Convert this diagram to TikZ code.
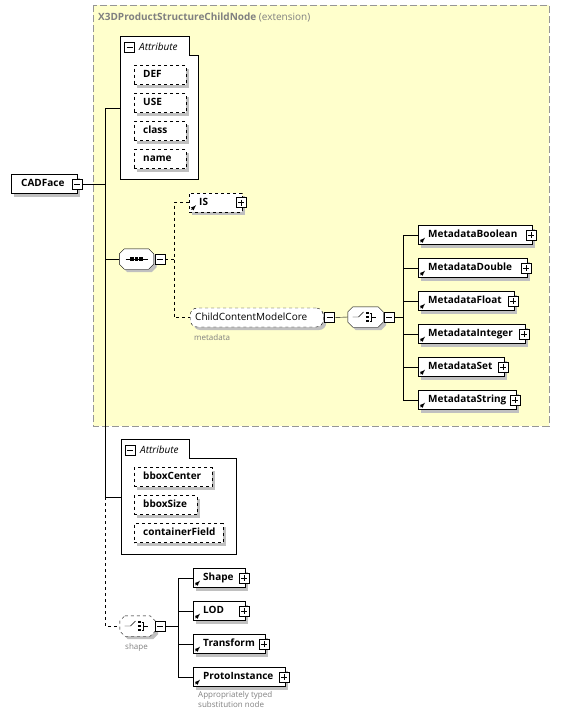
\documentclass[tikz,border=0pt]{standalone}
\usepackage{fontspec}
\setmainfont{Open Sans}
\usetikzlibrary{%
	calc,%
	arrows,%
	shadows
}
\definecolor{extfill}{RGB}{255,255,204}
\definecolor{extline}{RGB}{150,150,150}
\definecolor{shade}{RGB}{192,192,192}
\definecolor{notegray}{RGB}{128,128,128}

\tikzset{
	boxshadow/.style={general shadow={fill=shade, shadow xshift=3pt, shadow yshift=-3pt}},
	elem/.style={draw, fill=white, boxshadow, font=\fontsize{10}{12}\selectfont\bfseries,
		text width=#1, align=left, inner xsep=10pt, inner ysep=0pt,
		text height=7.5pt, text depth=2.5pt, minimum height=19pt, anchor=west},
	attr/.style={elem=#1, dashed, inner xsep=9pt},
	btn/.style={draw, solid, fill=white, minimum size=10pt, inner sep=0pt},
	minusbtn/.style={btn, path picture={
		\draw[solid] ([xshift=2pt]path picture bounding box.west) -- ([xshift=-2pt]path picture bounding box.east);}},
	plusbtn/.style={btn, path picture={
		\draw[solid] ([xshift=2pt]path picture bounding box.west) -- ([xshift=-2pt]path picture bounding box.east);
		\draw[solid] ([yshift=-2pt]path picture bounding box.north) -- ([yshift=2pt]path picture bounding box.south);}},
	comp/.style={minimum width=34pt, minimum height=20pt, inner sep=0pt},
	note/.style={font=\fontsize{8}{10}\selectfont, text=notegray, anchor=north west, inner sep=0pt, align=left},
	pics/seqicon/.style={code={
		\draw (-11,0) -- (11,0);
		\foreach \dx in {-4.5,0,4.5} \fill (\dx,0) +(-1.7,-1.7) rectangle +(1.7,1.7);
	}},
	pics/choiceicon/.style={code={
		\draw (-13,0) -- (-7,0) -- (-2,-5);
		\foreach \dy in {-4,0,4} \fill (2,\dy) +(-1.4,-1.4) rectangle +(1.4,1.4);
		\draw (4,-4) -- (6,-4) -- (6,4) -- (4,4) (6,0) -- (10,0);
	}}
}

% octagon round a compositor node
\newcommand\compframe[2][]{%
	\draw[fill=white, boxshadow, #1] ([xshift=5pt]#2.north west) -- ([xshift=-5pt]#2.north east)
		-- ([yshift=-5pt]#2.north east) -- ([yshift=5pt]#2.south east) -- ([xshift=-5pt]#2.south east)
		-- ([xshift=5pt]#2.south west) -- ([yshift=5pt]#2.south west) -- ([yshift=-5pt]#2.north west) -- cycle;}

\begin{document}
\begin{tikzpicture}[x=1pt, y=-1pt, >=latex]
	\useasboundingbox (0,0) rectangle (560,720);

	% Extension
	\draw[extline, dash pattern=on 7pt off 3pt, fill=extfill] (93,5) rectangle (549,426);
	\node[anchor=west, text=notegray, font=\fontsize{10}{12}\selectfont, inner sep=0pt] (exttitle) at (98,17)
		{\textbf{X3DProductStructureChildNode} (extension)};

	% Attribute groups
	\draw[fill=white] (120,36) -- (189,36) -- (189,55) -- (198,55) -- (198,179) -- (120,179) -- cycle;
	\node[minusbtn] (atts1btn) at (129.5,47) {};
	\node[anchor=west, inner sep=0pt, font=\fontsize{10}{12}\selectfont\itshape] (atts1head) at (139,47) {Attribute};
	\coordinate (atts1) at (120,108);

	\draw[fill=white] (121,439) -- (189,439) -- (189,458) -- (236,458) -- (236,554) -- (121,554) -- cycle;
	\node[minusbtn] (atts2btn) at (130,450) {};
	\node[anchor=west, inner sep=0pt, font=\fontsize{10}{12}\selectfont\itshape] (atts2head) at (140,450) {Attribute};
	\coordinate (atts2) at (121,497);

	% Attributes
	\node[attr=34pt] (def) at (134,75) {DEF};
	\node[attr=34pt] (use) at (134,103) {USE};
	\node[attr=34pt] (class) at (134,131) {class};
	\node[attr=34pt] (name) at (134,159) {name};
	\node[attr=60pt] (bboxcenter) at (134,477) {bboxCenter};
	\node[attr=45pt] (bboxsize) at (134,505) {bboxSize};
	\node[attr=71pt] (containerfield) at (134,533) {containerField};

	% Root
	\node[elem=46pt] (cadface) at (11,184) {CADFace};
	\node[minusbtn] (cadbtn) at (cadface.east) {};
	\coordinate (trunk) at (105,184);

	% Compositors
	\node[comp] (seq) at (136.5,259) {};
	\compframe{seq}
	\pic at (seq.center) {seqicon};
	\node[minusbtn, anchor=west] (seqbtn) at ([xshift=1pt]seq.east) {};
	\coordinate (seqbus) at (174,259);

	\node[comp, minimum width=35pt] (chc) at (365.5,317) {};
	\compframe{chc}
	\pic at (chc.center) {choiceicon};
	\node[minusbtn, anchor=west] (chcbtn) at ([xshift=1pt]chc.east) {};
	\coordinate (chcbus) at (403,317);

	\node[comp, minimum width=35pt] (shp) at (137.5,626) {};
	\compframe[dashed]{shp}
	\pic at (shp.center) {choiceicon};
	\node[minusbtn, anchor=west] (shpbtn) at (shp.east) {};
	\coordinate (shpbus) at (178,626);

	% Elements
	\node[elem=33pt, dashed] (is) at (189,202.5) {IS};
	\node[draw, dashed, rounded corners=7pt, fill=white, boxshadow, anchor=west, font=\fontsize{10}{12}\selectfont,
		text width=123pt, inner xsep=5pt, inner ysep=0pt, text height=7.5pt, text depth=2.5pt,
		minimum height=19pt] (ccmc) at (190,317.5) {ChildContentModelCore};
	\node[minusbtn, anchor=west] (ccmcbtn) at ([xshift=1pt]ccmc.east) {};
	\node[note] (metanote) at (194,334) {metadata};

	\node[elem=94pt] (mbool) at (418,235) {MetadataBoolean};
	\node[elem=89pt] (mdbl) at (418,268) {MetadataDouble};
	\node[elem=76pt] (mflt) at (418,301) {MetadataFloat};
	\node[elem=87pt] (mint) at (418,334) {MetadataInteger};
	\node[elem=66pt] (mset) at (418,367) {MetadataSet};
	\node[elem=78pt] (mstr) at (418,400) {MetadataString};

	\node[elem=32pt] (shape) at (193,578) {Shape};
	\node[elem=32pt] (lod) at (193,611) {LOD};
	\node[elem=52pt] (xform) at (193,644) {Transform};
	\node[elem=72pt] (proto) at (193,677) {ProtoInstance};
	\node[note] (shpnote) at (125,643) {shape};
	\node[note] (protonote) at (198,691) {Appropriately typed\\substitution node};

	% Plus buttons and reference arrows
	\foreach \e in {is,mbool,mdbl,mflt,mint,mset,mstr,shape,lod,xform,proto} {
		\node[plusbtn] (\e-btn) at ([xshift=-1.5pt]\e.east) {};
		\draw[->, line width=.8pt, solid] ([shift={(2.5pt,2.5pt)}]\e.south west) -- ++(4.5pt,4.5pt);
	}

	% Connectors
	\draw (cadbtn.east) -- (trunk);
	\draw (atts1) -- (atts1 -| trunk) -- (atts2 -| trunk) -- (atts2);
	\draw (seq.west) -- (seq.west -| trunk);
	\draw[dashed] (atts2 -| trunk) |- (shp.west);

	\draw[dashed] (seqbtn.east) -- (seqbus);
	\draw[dashed] (is.west) -| (seqbus) |- (ccmc.west);
	\draw (ccmcbtn.east) -- (chc.west);

	\draw (chcbtn.east) -- (chcbus);
	\draw (chcbus |- mbool.west) -- (chcbus |- mstr.west);
	\foreach \m in {mbool,mdbl,mflt,mint,mset,mstr}
	\draw (chcbus |- \m.west) -- (\m.west);

	\draw (shpbtn.east) -- (shpbus);
	\draw (shpbus |- shape.west) -- (shpbus |- proto.west);
	\foreach \m in {shape,lod,xform,proto}
	\draw (shpbus |- \m.west) -- (\m.west);
\end{tikzpicture}
\end{document}
